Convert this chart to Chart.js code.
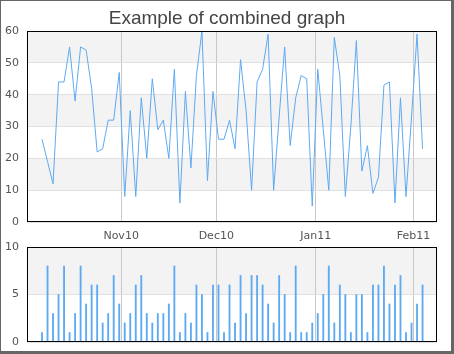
<!DOCTYPE html>
<html>
<head>
<meta charset="utf-8">
<script src="https://cdn.jsdelivr.net/npm/chart.js@4.4.1/dist/chart.umd.min.js"></script>
<style>
  html, body { margin: 0; padding: 0; background: #fff; }
  #frame { position: absolute; left: 0; top: 0; width: 454px; height: 354px; box-sizing: border-box;
           border: 1px solid #666; border-right-width: 3px; border-bottom-width: 3px; pointer-events: none; }
  .box { position: absolute; left: 0; width: 454px; }
  #top-box { top: 0; height: 226px; }
  #bottom-box { top: 226px; height: 128px; }
</style>
</head>
<body>
<div id="top-box" class="box"><canvas id="lineChart"></canvas></div>
<div id="bottom-box" class="box"><canvas id="barChart"></canvas></div>
<div id="frame"></div>
<script>
(function(){

    // values, one per sample
    const lineValues = [26,19,12,44,44,55,38,55,54,42, 22,23,32,32,47,8,35,8,39,20,
                        45,29,32,20,48,6,41,17,46,60, 13,41,26,26,32,23,51,35,10,44,
                        48,59,10,33,55,24,39,46,45,5, 48,29,10,58,46,8,30,57,16,24,
                        9,14,43,44,6,39,8,33,59,23];
    const barValues = [1,8,3,5,8,1,3,8,4,6, 6,2,3,7,4,2,3,6,7,3,
                       2,3,3,4,8,1,3,2,6,5, 1,6,6,1,6,2,7,3,7,7,
                       6,4,2,7,5,1,8,1,1,2, 3,5,8,2,6,5,1,5,5,1,
                       6,6,8,4,6,7,1,2,4,6];

    // month ticks, placed in sample-index units
    const monthLabels = ['Nov10', 'Dec10', 'Jan11', 'Feb11'];
    const monthAt = [14.35, 31.6, 49.65, 67.37];
    const xMin = -2.72, xMax = 71.62;

    const tickFont = { family: 'DejaVu Sans', size: 11 };
    const tickColor = '#545454';
    const blue = '#5eaaf2';

    // gray bands between every other y tick, plus the black box round the plot
    const plotFrame = {
        id: 'plotFrame',
        beforeDraw(chart) {
            const ctx = chart.ctx, a = chart.chartArea, y = chart.scales.y;
            ctx.save();
            ctx.fillStyle = '#f3f3f3';
            y.ticks.forEach((t, i) => {
                if (i % 2 === 1 && i + 1 < y.ticks.length) {
                    const y0 = y.getPixelForValue(t.value);
                    const y1 = y.getPixelForValue(y.ticks[i + 1].value);
                    ctx.fillRect(a.left, y1, a.right - a.left, y0 - y1);
                }
            });
            ctx.restore();
        },
        afterDraw(chart) {
            const ctx = chart.ctx, a = chart.chartArea;
            ctx.save();
            ctx.strokeStyle = '#000';
            ctx.lineWidth = 1;
            ctx.strokeRect(a.left + 0.5, a.top + 0.5, a.right - a.left - 1, a.bottom - a.top - 1);
            ctx.restore();
        }
    };

    // drop the extra room chart.js keeps for half a tick label
    function noPad(s) {
        s.paddingTop = 0; s.paddingBottom = 0;
        s.paddingLeft = 0; s.paddingRight = 0;
    }

    function xScale(showLabels) {
        return {
            type: 'linear',
            position: showLabels ? 'top' : 'bottom',
            min: xMin,
            max: xMax,
            offset: false,
            afterBuildTicks: s => { s.ticks = monthAt.map(v => ({ value: v })); },
            afterFit: s => { s.height = showLabels ? 21 : 0; noPad(s); },
            grid: { color: '#c8c8c8', drawTicks: false, offset: false },
            border: { display: false },
            ticks: {
                display: showLabels,
                padding: 4,
                font: tickFont,
                color: tickColor,
                maxRotation: 0,
                autoSkip: false,
                callback: (v, i) => monthLabels[i]
            }
        };
    }

    function yScale(max, step) {
        return {
            min: 0,
            max: max,
            afterFit: s => { s.width = 27; noPad(s); },
            grid: { color: '#e0e0e0', drawTicks: false },
            border: { display: false },
            ticks: { stepSize: step, padding: 8, font: tickFont, color: tickColor }
        };
    }

    // empty strip on the right so the title stays centred on the canvas
    const rightGap = {
        position: 'right',
        afterFit: s => { s.width = 17; noPad(s); },
        grid: { display: false },
        border: { display: false },
        ticks: { display: false }
    };

    const lineChart = new Chart(document.getElementById('lineChart'), {
        type: 'line',
        data: {
            datasets: [{
                data: lineValues.map((v, i) => ({ x: i, y: v })),
                borderColor: blue,
                borderWidth: 1,
                pointRadius: 0,
                tension: 0,
                fill: false
            }]
        },
        options: {
            responsive: true,
            maintainAspectRatio: false,
            animation: false,
            layout: { padding: { left: 0, right: 0, top: 0, bottom: 4 } },
            plugins: {
                legend: { display: false },
                tooltip: { enabled: false },
                title: {
                    display: true,
                    text: 'Example of combined graph',
                    color: '#444',
                    font: { family: 'Liberation Sans', size: 19, weight: 'normal' },
                    padding: { top: 7, bottom: 1.2 }
                }
            },
            scales: { x: xScale(false), y: yScale(60, 10), yr: rightGap }
        },
        plugins: [plotFrame]
    });

    const barChart = new Chart(document.getElementById('barChart'), {
        type: 'bar',
        data: {
            datasets: [{
                data: barValues.map((v, i) => ({ x: i, y: v })),
                backgroundColor: blue,
                borderWidth: 0,
                barThickness: 1.2
            }]
        },
        options: {
            responsive: true,
            maintainAspectRatio: false,
            animation: false,
            layout: { padding: { left: 0, right: 0, top: 0, bottom: 12 } },
            plugins: { legend: { display: false }, tooltip: { enabled: false } },
            scales: { x: xScale(true), y: yScale(10, 5), yr: rightGap }
        },
        plugins: [plotFrame]
    });

})();
</script>
</body>
</html>
